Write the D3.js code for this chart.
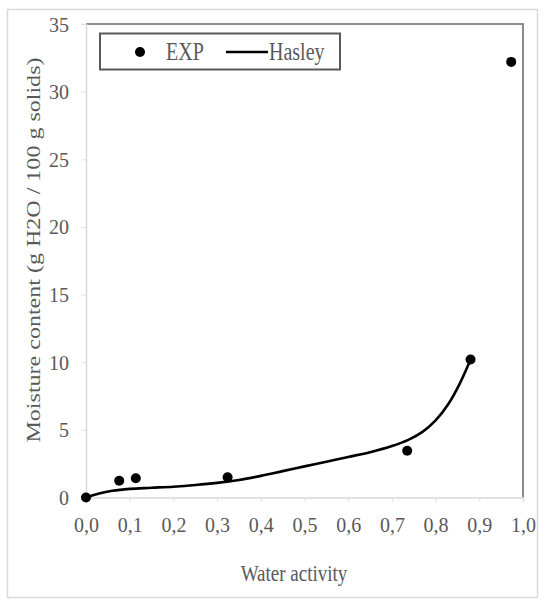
<!DOCTYPE html>
<html>
<head>
<meta charset="utf-8">
<script src="https://cdn.jsdelivr.net/npm/d3@7"></script>
<style>
    body { margin: 0; background: #fff; }
    text { font-family: "Liberation Serif", "DejaVu Serif", serif; fill: #595959; }
</style>
</head>
<body>
<svg id="chart" width="545" height="600"></svg>
<script>
// experimental points (water activity, moisture content)
var expAw = [0, 0.076, 0.114, 0.324, 0.735, 0.880, 0.973];
var expM = [0, 1.24, 1.42, 1.49, 3.46, 10.2, 32.2];

// Hasley fit
var hasleyAw = [0, 0.03, 0.06, 0.10, 0.15, 0.20, 0.25, 0.30, 0.35, 0.40, 0.45, 0.50, 0.55, 0.60, 0.65, 0.70, 0.74, 0.77, 0.80, 0.83, 0.855, 0.88];
var hasleyM = [0, 0.3, 0.5, 0.64, 0.72, 0.8, 0.92, 1.08, 1.3, 1.6, 1.95, 2.3, 2.65, 3.0, 3.35, 3.8, 4.3, 4.85, 5.7, 6.95, 8.4, 10.2];

var xTicks = [0, 0.1, 0.2, 0.3, 0.4, 0.5, 0.6, 0.7, 0.8, 0.9, 1.0];
var xTickLabels = ["0,0", "0,1", "0,2", "0,3", "0,4", "0,5", "0,6", "0,7", "0,8", "0,9", "1,0"];
var yTicks = [0, 5, 10, 15, 20, 25, 30, 35];

var svg = d3.select("#chart");

var x = d3.scaleLinear().domain([0, 1]).range([86, 523]);
var y = d3.scaleLinear().domain([0, 35]).range([497.5, 24]);

// outer chart frame
svg.append("rect")
    .attr("x", 7.5).attr("y", 9.5)
    .attr("width", 530).attr("height", 588)
    .attr("fill", "#fff")
    .attr("stroke", "#d9d9d9")
    .attr("stroke-width", 1.5);

// plot area border: top and right are darker
svg.append("path")
    .attr("d", "M" + x(0) + "," + y(35) + "H" + x(1) + "V" + y(0))
    .attr("fill", "none")
    .attr("stroke", "#8c8c8c")
    .attr("stroke-width", 2);

// axes
var xAxis = svg.append("g")
    .attr("transform", "translate(0," + y(0) + ")")
    .call(d3.axisBottom(x)
        .tickValues(xTicks)
        .tickFormat(function (d, i) { return xTickLabels[i]; })
        .tickSize(5));
xAxis.selectAll("text")
    .attr("y", 34).attr("dy", 0)
    .style("font-size", "20px");

var yAxis = svg.append("g")
    .attr("transform", "translate(" + x(0) + ",0)")
    .call(d3.axisLeft(y).tickValues(yTicks).tickSize(5));
yAxis.selectAll("text")
    .attr("x", -17)
    .attr("dy", "0.35em")
    .style("font-size", "20px");

svg.selectAll("g").attr("font-family", null);
svg.selectAll(".domain").attr("stroke", "#d9d9d9").attr("stroke-width", 1.5);
svg.selectAll(".tick line").attr("stroke", "#e3e3e3");
svg.selectAll(".tick text").attr("fill", "#595959");

// Hasley curve
var line = d3.line()
    .x(function (d) { return x(d[0]); })
    .y(function (d) { return y(d[1]); })
    .curve(d3.curveCatmullRom);

svg.append("path")
    .datum(d3.zip(hasleyAw, hasleyM))
    .attr("d", line)
    .attr("fill", "none")
    .attr("stroke", "#000")
    .attr("stroke-width", 2.6);

// EXP points
svg.selectAll(".pt")
    .data(d3.zip(expAw, expM))
    .join("circle")
    .attr("class", "pt")
    .attr("cx", function (d) { return x(d[0]); })
    .attr("cy", function (d) { return y(d[1]); })
    .attr("r", 5)
    .attr("fill", "#000");

// axis titles
svg.append("text")
    .attr("transform", "translate(294,581) scale(1,1.25)")
    .attr("text-anchor", "middle")
    .style("font-size", "19px")
    .text("Water activity");

svg.append("text")
    .attr("transform", "translate(40,250) rotate(-90)")
    .attr("text-anchor", "middle")
    .attr("textLength", 385)
    .attr("lengthAdjust", "spacingAndGlyphs")
    .style("font-size", "19px")
    .text("Moisture content (g H2O / 100 g solids)");

// legend
var legend = svg.append("g");
legend.append("rect")
    .attr("x", 100).attr("y", 33.5)
    .attr("width", 240).attr("height", 36)
    .attr("fill", "#fff")
    .attr("stroke", "#595959")
    .attr("stroke-width", 2);
legend.append("circle")
    .attr("cx", 140).attr("cy", 52)
    .attr("r", 5).attr("fill", "#000");
legend.append("text")
    .attr("transform", "translate(166,60) scale(1,1.3)")
    .style("font-size", "20px")
    .text("EXP");
legend.append("line")
    .attr("x1", 226).attr("x2", 268)
    .attr("y1", 52).attr("y2", 52)
    .attr("stroke", "#000")
    .attr("stroke-width", 2.6);
legend.append("text")
    .attr("transform", "translate(269,60) scale(1,1.3)")
    .style("font-size", "20px")
    .text("Hasley");
</script>
</body>
</html>
